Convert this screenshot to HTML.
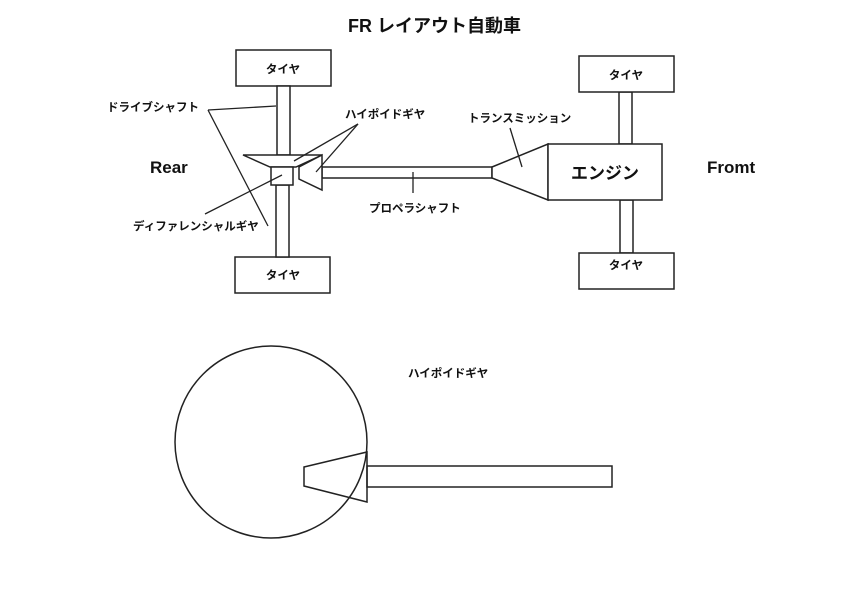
<!DOCTYPE html>
<html><head><meta charset="utf-8"><style>
html,body{margin:0;padding:0;background:#fff;}
svg{display:block;}
text{font-family:"Liberation Sans","Noto Sans CJK JP",sans-serif;fill:#111;}
</style></head><body>
<svg width="842" height="595" viewBox="0 0 842 595" xmlns="http://www.w3.org/2000/svg">
<g fill="#fff" stroke="#222" stroke-width="1.5">
<rect x="236" y="50" width="95" height="36"/>
<rect x="235" y="257" width="95" height="36"/>
<rect x="277" y="86" width="13" height="69"/>
<rect x="276" y="185" width="13" height="72"/>
<polygon points="243,155 322,155 296,167 270,167"/>
<rect x="271" y="167" width="22" height="18"/>
<rect x="322" y="167" width="170" height="11"/>
<polygon points="299,167 322,155 322,190 299,179"/>
<polygon points="492,167 548,144 548,200 492,178"/>
<rect x="619" y="92" width="13" height="52"/>
<rect x="620" y="200" width="13" height="53"/>
<rect x="548" y="144" width="114" height="56"/>
<rect x="579" y="56" width="95" height="36"/>
<rect x="579" y="253" width="95" height="36"/>
<circle cx="271" cy="442" r="96"/>
<rect x="367" y="466" width="245" height="21"/>
<polygon points="304,467 367,452 367,502 304,486" fill="none"/>
</g>
<g stroke="#222" stroke-width="1.3" fill="none">
<line x1="208" y1="110" x2="276" y2="106"/>
<line x1="208" y1="110" x2="268" y2="226"/>
<line x1="205" y1="214" x2="282" y2="175"/>
<line x1="358" y1="124" x2="294" y2="161"/>
<line x1="358" y1="124" x2="316" y2="172"/>
<line x1="510" y1="128" x2="522" y2="167"/>
<line x1="413" y1="172" x2="413" y2="193"/>
</g>
<g font-weight="bold">
<text x="348" y="32" font-size="18">FR レイアウト自動車</text>
<text x="283" y="73" font-size="11.5" text-anchor="middle">タイヤ</text>
<text x="283" y="279" font-size="11.5" text-anchor="middle">タイヤ</text>
<text x="626" y="79" font-size="11.5" text-anchor="middle">タイヤ</text>
<text x="626" y="269" font-size="11.5" text-anchor="middle">タイヤ</text>
<text x="150" y="173" font-size="17">Rear</text>
<text x="707" y="173" font-size="17">Fromt</text>
<text x="605" y="179" font-size="17" text-anchor="middle">エンジン</text>
<text x="107" y="111" font-size="11.5">ドライブシャフト</text>
<text x="133" y="230" font-size="11.5">ディファレンシャルギヤ</text>
<text x="345" y="118" font-size="11.5">ハイポイドギヤ</text>
<text x="468" y="122" font-size="11.5">トランスミッション</text>
<text x="369" y="212" font-size="11.5">プロペラシャフト</text>
<text x="408" y="377" font-size="11.5">ハイポイドギヤ</text>
</g>
</svg>
</body></html>
